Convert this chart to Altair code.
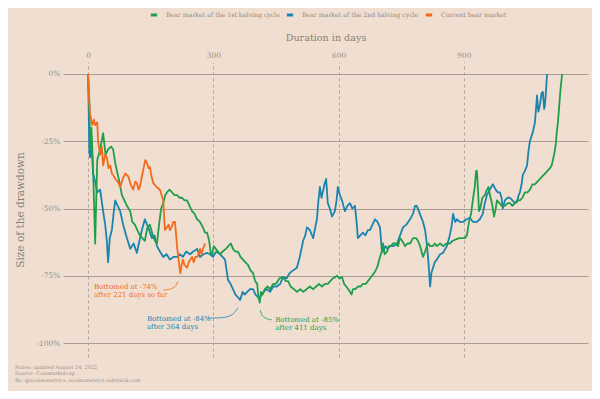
import altair as alt
import pandas as pd

# ---------------- data ----------------
series_names = ["Bear market of the 1st halving cycle",
                "Bear market of the 2nd halving cycle",
                "Current bear market"]
series_colors = ["#1f9e4b", "#1a84b0", "#f26b1d"]

# (day, drawdown %) pairs
green_points = [(0,0),(3,-10),(5,-28),(8,-20),(12,-35),(17,-63),(22,-32),(29,-28),(36,-22),(42,-30),(48,-28),
    (55,-27),(60,-28),(65,-33),(69,-36),(75,-40),(81,-45),(87,-47),(93,-49),(101,-51),(106,-55),(112,-56),
    (118,-58),(124,-60),(130,-61),(136,-62),(142,-57),(148,-56),(155,-60),(160,-62),(165,-63),(170,-56),
    (175,-50),(180,-48),(185,-45),(189,-44),(195,-43),(201,-44),(207,-45),(213,-45),(219,-46),(225,-46),
    (231,-47),(237,-47),(243,-49),(249,-51),(255,-52),(261,-54),(268,-55),(275,-57),(280,-59),(285,-59),
    (290,-62),(294,-67),(297,-67),(301,-64),(306,-65),(311,-66),(316,-67),(322,-66),(330,-65),(336,-64),
    (342,-63),(347,-65),(353,-66),(359,-66),(365,-68),(371,-69),(377,-70),(383,-71),(389,-73),(395,-74),
    (400,-77),(405,-78),(408,-83),(411,-85),(414,-81),(418,-82),(423,-80),(430,-79),(436,-80),(443,-78),
    (450,-78),(458,-76),(467,-75.5),(473,-77),(479,-77),(485,-79),(493,-80),(500,-81),(508,-80),(515,-81),
    (523,-80),(531,-79),(539,-80),(546,-79),(553,-78),(560,-79),(567,-78),(574,-78),(580,-77),(586,-76),
    (592,-75.5),(596,-75),(602,-76),(608,-75.5),(613,-78),(618,-79),(623,-80),(627,-81),(631,-82),(634,-80),
    (640,-80),(646,-79),(652,-79),(658,-78),(665,-78),(670,-77),(675,-76),(680,-75),(685,-74),(692,-72),
    (699,-68),(703,-66),(706,-63),(710,-67),(716,-66),(720,-64),(725,-64),(730,-63),(737,-63),(742,-64),
    (747,-61),(752,-62),(759,-64),(765,-63),(771,-63),(778,-61),(785,-61),(790,-62),(795,-64),(802,-68),
    (807,-66),(811,-64),(815,-63),(819,-64),(825,-64),(830,-63),(835,-64),(843,-63),(850,-64),(858,-63),
    (866,-63),(873,-62),(881,-61.5),(888,-61),(895,-61),(902,-61),(907,-60),(912,-55),(917,-52),(922,-46),
    (926,-42),(929,-36),(931,-36),(934,-44),(936,-51),(939,-50),(944,-46),(950,-45),(955,-43),(959,-42),
    (962,-45),(967,-48),(972,-53),(976,-50),(979,-47),(985,-48),(990,-49),(998,-49),(1005,-48),(1010,-48),
    (1016,-49),(1022,-48),(1028,-47),(1034,-47),(1040,-46),(1046,-44),(1052,-44),(1058,-43),(1064,-41),
    (1070,-41),(1076,-40),(1082,-39),(1088,-38),(1094,-37),(1100,-36),(1106,-35),(1110,-34),(1113,-32),
    (1117,-29),(1120,-26),(1122,-22),(1125,-18),(1128,-12),(1131,-6),(1135,0)]

blue_points = [(0,0),(1,-9),(3,-29),(5,-31),(8,-25),(12,-37),(17,-40),(22,-44),(29,-43),(36,-51),(41,-56),
    (45,-62),(48,-70),(52,-61),(57,-58),(61,-52),(65,-47),(71,-49),(77,-51),(84,-56),(93,-61),(101,-65),
    (109,-63),(117,-66.5),(123,-62),(129,-58),(136,-54),(144,-57),(153,-61),(159,-60),(165,-64),(172,-66),
    (180,-68),(188,-67),(196,-69),(204,-68),(213,-68),(220,-67),(227,-68),(235,-66),(244,-67),(252,-66),
    (261,-65),(268,-68),(276,-67),(285,-66.5),(292,-67),(299,-68),(307,-66),(316,-67),(322,-68),(328,-69),
    (335,-76.5),(341,-78),(347,-80),(353,-82),(359,-83),(364,-84),(370,-81),(375,-82),(381,-81),(388,-80),
    (395,-80),(401,-82),(407,-83),(412,-83),(420,-81),(428,-80),(436,-81),(443,-79),(452,-79),(460,-78),
    (467,-75.5),(475,-76),(483,-74),(491,-73),(500,-72),(507,-68),(515,-62),(520,-60),(524,-57),(531,-58),
    (539,-61),(544,-57),(548,-54),(551,-48),(555,-42),(559,-46),(562,-44),(566,-41),(570,-39),(574,-48),
    (579,-50),(584,-53),(591,-51),(595,-47),(598,-42),(603,-45),(608,-47),(615,-51),(621,-49),(627,-48),
    (633,-50),(639,-49),(643,-55),(646,-61),(652,-60),(658,-59),(664,-60),(670,-58),(675,-58),(681,-56),
    (687,-54),(693,-55),(699,-57),(703,-65),(706,-66),(712,-64),(717,-65),(723,-64),(731,-64),(740,-63),
    (747,-60),(754,-57),(762,-56),(771,-54),(778,-52),(783,-49),(787,-49),(792,-51),(797,-53),(802,-55),
    (807,-58),(811,-63),(815,-70),(819,-79),(822,-74),(826,-72),(830,-70),(835,-69),(843,-67),(850,-66.5),
    (859,-64),(866,-60),(870,-57),(874,-52),(879,-55),(883,-54),(890,-55),(898,-55),(906,-54),(914,-53.5),
    (922,-55),(931,-55),(938,-54),(945,-52),(950,-48),(955,-45),(962,-43),(969,-41),(976,-43),(981,-44),
    (986,-44),(990,-46),(993,-50),(998,-47),(1004,-46),(1010,-46),(1016,-47),(1022,-48),(1027,-47.6),
    (1031,-45),(1034,-44),(1038,-41),(1041,-37.5),(1046,-36),(1051,-34),(1055,-28),(1058,-25),(1062,-23),
    (1065,-21.6),(1070,-18),(1075,-8),(1078,-14),(1082,-11.5),(1086,-7),(1089,-6.7),(1092,-13),(1094,-11.5),
    (1097,-5),(1099,0)]

orange_points = [(0,0),(2,-9),(5,-15),(10,-19),(14,-17),(17,-19),(22,-18),(24,-25),(29,-30),(33,-27),
    (36,-34),(41,-30),(45,-31),(49,-35),(53,-34),(57,-37),(60,-37.5),(65,-39),(71,-40),(77,-42),(83,-39),
    (89,-37),(96,-38),(102,-41),(108,-43),(113,-40),(117,-40.5),(121,-43),(124,-42),(129,-38),(133,-35),
    (137,-32),(141,-33),(145,-35),(148,-34.6),(152,-38),(156,-40.5),(164,-42),(172,-43),(176,-45),(180,-47),
    (184,-58),(189,-57),(193,-56),(196,-58),(200,-57),(204,-55),(208,-55),(211,-60),(213,-64),(216,-68),
    (219,-72),(221,-74),(224,-71),(227,-69),(231,-71),(237,-72),(241,-70),(245,-69),(249,-68),(253,-70),
    (257,-68),(261,-68),(265,-67),(268,-65),(272,-67),(275,-65),(278,-64),(280,-63)]

note_lines = ["Notes: updated August 14, 2022",
              "Source: Coinmarketcap",
              "By: @ecoinometrics, ecoinometrics.substack.com"]

ann_text = ["Bottomed at -74%", "after 221 days so far",
            "Bottomed at -84%", "after 364 days",
            "Bottomed at -85%", "after 411 days"]
ann_day = [14, 14, 141, 141, 448, 448]
ann_pct = [-79.2, -82.3, -91.0, -94.1, -91.4, -94.5]
ann_series = [series_names[2], series_names[2], series_names[1], series_names[1],
              series_names[0], series_names[0]]

conn_series = [series_names[2]] * 4 + [series_names[1]] * 4 + [series_names[0]] * 4
conn_id = ["o"] * 4 + ["b"] * 4 + ["g"] * 4
conn_order = [0, 1, 2, 3] * 3
conn_day = [180, 201, 212, 215, 287, 328, 348, 359, 412, 416, 426, 440]
conn_pct = [-80.3, -80.0, -78.6, -77.0, -90.7, -90.7, -89.5, -86.8, -87.7, -90.0, -91.0, -91.4]

# ---------------- build tables ----------------
def frame(points, name):
    return pd.DataFrame({"day": [p[0] for p in points], "pct": [p[1] for p in points], "series": name})


df = pd.concat([frame(green_points, series_names[0]),
                frame(blue_points, series_names[1]),
                frame(orange_points, series_names[2])], ignore_index=True)
ann = pd.DataFrame({"text": ann_text, "day": ann_day, "pct": ann_pct, "series": ann_series})
conn = pd.DataFrame({"id": conn_id, "o": conn_order, "day": conn_day, "pct": conn_pct, "series": conn_series})

FONT = "DejaVu Serif"
TXT = "#988c84"
W, H = 525, 295

xscale = alt.Scale(domain=[-60, 1197], nice=False, zero=False)
yscale = alt.Scale(domain=[-105.2, 4.46], nice=False, zero=False)
cscale = alt.Scale(domain=series_names, range=series_colors)

xaxis = alt.Axis(orient="top", values=[0, 300, 600, 900], title="Duration in days",
                 grid=True, gridDash=[3, 3], gridColor="#b3a397", gridWidth=1,
                 domain=False, ticks=False, labelPadding=3, titlePadding=9,
                 labelFont=FONT, labelFontSize=7.5, labelColor=TXT,
                 titleFont=FONT, titleFontSize=9.6, titleColor="#8a7e76", titleFontWeight="normal")
yaxis = alt.Axis(values=[0, -25, -50, -75, -100], labelExpr="datum.value + '%'",
                 title="Size of the drawdown", grid=True, gridColor="#a89c94", gridWidth=1,
                 domain=False, ticks=False, labelPadding=3, titlePadding=11,
                 labelFont=FONT, labelFontSize=7.5, labelColor=TXT,
                 titleFont=FONT, titleFontSize=10.5, titleColor="#8a7e76", titleFontWeight="normal")

legend = alt.Legend(orient="none", legendX=86, legendY=-52, direction="horizontal", title=None,
                    symbolType="stroke", symbolStrokeWidth=3, symbolSize=40,
                    labelFont=FONT, labelFontSize=6.2, labelColor="#8f847c", labelOffset=7,
                    columnPadding=0, columns=3)


def series_layer(name):
    return alt.Chart(df).transform_filter(alt.datum.series == name).mark_line(
        strokeWidth=1.8, strokeJoin="round").encode(
        x=alt.X("day:Q", scale=xscale, axis=xaxis),
        y=alt.Y("pct:Q", scale=yscale, axis=yaxis),
        color=alt.Color("series:N", scale=cscale, legend=legend),
    )


layers = [series_layer(series_names[1]), series_layer(series_names[0]), series_layer(series_names[2])]

connectors = alt.Chart(conn).mark_line(strokeWidth=0.8, interpolate="basis").encode(
    x=alt.X("day:Q", scale=xscale),
    y=alt.Y("pct:Q", scale=yscale),
    detail="id:N",
    order="o:Q",
    color=alt.Color("series:N", scale=cscale, legend=None),
)

labels = alt.Chart(ann).mark_text(align="left", baseline="middle", font=FONT, fontSize=7).encode(
    x=alt.X("day:Q", scale=xscale),
    y=alt.Y("pct:Q", scale=yscale),
    text="text:N",
    color=alt.Color("series:N", scale=cscale, legend=None),
)

chart = alt.layer(*layers, connectors, labels).properties(
    width=W, height=H,
    autosize=alt.AutoSizeParams(type="none"),
    padding={"left": 55, "top": 54, "right": 4, "bottom": 34},
    background="#f0dfd0",
    title=alt.TitleParams(text=note_lines, orient="bottom", anchor="start", frame="bounds",
                          font=FONT, fontSize=5, fontWeight="normal", color="#9a8e86",
                          lineHeight=6.3, offset=8),
).configure_view(stroke=None)

chart.save("out.html", embed_options={"renderer": "svg", "actions": False})
